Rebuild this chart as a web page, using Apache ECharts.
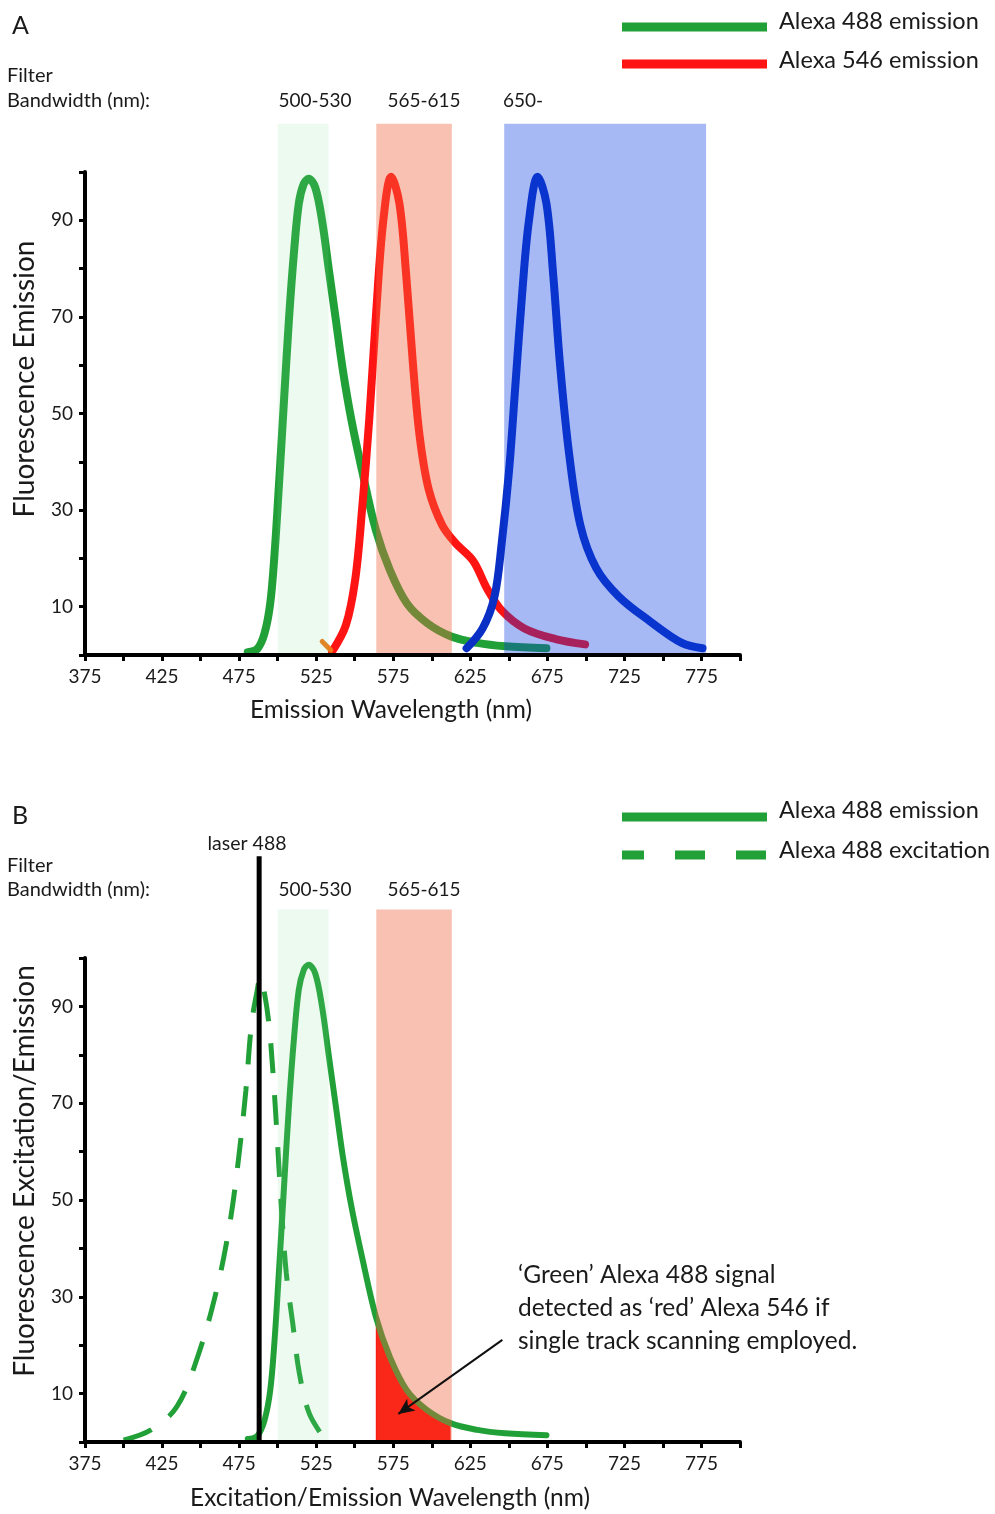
<!DOCTYPE html>
<html><head><meta charset="utf-8">
<script src="https://cdn.jsdelivr.net/npm/echarts@6/dist/echarts.min.js"></script>
<style>html,body{margin:0;padding:0;background:#fff}#c{width:995px;height:1514px}</style>
</head><body><div id="c"></div>
<script>
// ---------- data ----------
const xTickLabels = [375, 425, 475, 525, 575, 625, 675, 725, 775];
const yTickLabels = [10, 30, 50, 70, 90];
const filterBandsA = [[500, 533], [564, 613], [647, 778]];
const filterBandsB = [[500, 533], [564, 613]];
const bandLabelsA = ['500-530', '565-615', '650-'];
const bandLabelsB = ['500-530', '565-615'];
const alexa488Em = [[480.6,0.6],[486.9,1.3],[491.5,4.5],[495.2,10.7],[498,21],[500.8,35],[504,52],[507.3,69.3],[510.5,83],[513.7,93.4],[516.9,97.5],[520.1,98.6],[524.4,96.8],[528.8,90],[533.3,79.6],[537.8,69.3],[542.3,59],[547.9,48.6],[554.7,38.3],[563.7,25.9],[572.8,17.6],[583.8,10.7],[597,6.6],[612.2,3.9],[629.6,2.5],[647.6,1.8],[674.4,1.4]];
const alexa546Em = [[535.3,0.7],[544.3,6.2],[550.4,15.8],[554.9,30.6],[559.5,49.1],[564,71.3],[568.5,89.8],[573.7,99],[579,93.5],[583.4,78.7],[587.8,60.2],[592.1,45.4],[598,34.3],[606.7,26.9],[615.3,23.2],[626.8,19.5],[636.1,13.6],[645.4,9.2],[660.1,5.5],[680.3,3.3],[699.5,2.2]];
const alexa647Em = [[622.6,1.4],[633,5.5],[640.7,12.1],[645.4,23.2],[650.1,38],[654.4,56.5],[658.7,75],[663,89.8],[668.7,99],[674.4,93.5],[678.8,78.7],[683.2,60.2],[689.1,41.7],[696.4,26.9],[706.7,18],[721.4,12.1],[741.5,7],[762.2,2.5],[775.7,1.4]];
const alexa488Ex = [[400,0.4],[417.8,2.5],[434.6,7.3],[448.1,17.6],[460.4,31.4],[469,45.2],[474.8,59],[479.4,72.7],[483.1,86.5],[486.8,93.4],[488.7,96.1],[491.3,93],[494.3,86.5],[497,76.2],[499.8,62.4],[502.4,48.6],[505.6,34.9],[509.8,24.5],[514.1,14.2],[520.5,5.9],[530.1,0.8]];
const orangeTick = [[528.9,2.8],[534.5,1.0]];
const laser488 = 488;
const laserTop = 121;
const spilloverRange = [563, 613];
const arrowFrom = [645.8, 21.1];
const arrowTo = [578.3, 5.8];

// ---------- styles ----------
const FONT = 'Lato';
const TXT = '#1a1a1a';
const GREEN = '#22a038';
const RED = '#ff1414';
const BLUE = '#0a2fc4';
const bandColorsA = ['rgba(120,220,140,0.14)', 'rgba(240,100,60,0.40)', 'rgba(10,60,225,0.36)'];
const bandColorsB = ['rgba(120,220,140,0.14)', 'rgba(240,100,60,0.40)'];
const BAND_TOP = 110;

function xAxisCfg(g) {
  return {
    type: 'value', gridIndex: g, min: 375, max: 800, interval: 25, z: 6,
    axisLine: { show: true, onZero: false, lineStyle: { color: '#000', width: 4 } },
    axisTick: { show: true, length: 6, lineStyle: { color: '#000', width: 3 } },
    axisLabel: { formatter: v => xTickLabels.includes(v) ? String(v) : '', fontFamily: FONT, fontSize: 19, color: TXT, margin: 12 },
    splitLine: { show: false }
  };
}
function yAxisCfg(g) {
  return {
    type: 'value', gridIndex: g, min: 0, max: 100, interval: 10, z: 6,
    axisLine: { show: true, onZero: false, lineStyle: { color: '#000', width: 4 } },
    axisTick: { show: true, length: 6, lineStyle: { color: '#000', width: 3 } },
    axisLabel: { formatter: v => yTickLabels.includes(v) ? String(v) : '', fontFamily: FONT, fontSize: 19, color: TXT, margin: 12 },
    splitLine: { show: false }
  };
}
function bandSeries(g, bands, colors) {
  return {
    type: 'custom', xAxisIndex: g, yAxisIndex: g, z: 4, silent: true, clip: false,
    data: bands,
    encode: { x: [0, 1] },
    renderItem: function (params, api) {
      const p1 = api.coord([api.value(0), BAND_TOP]);
      const p2 = api.coord([api.value(1), 0]);
      return { type: 'rect', shape: { x: p1[0], y: p1[1], width: p2[0] - p1[0], height: p2[1] - p1[1] }, style: { fill: colors[params.dataIndex] } };
    }
  };
}
function curve(g, data, color, width, extra) {
  return Object.assign({
    type: 'line', xAxisIndex: g, yAxisIndex: g, data: data, showSymbol: false, symbol: 'none',
    smooth: 0.35, clip: false, z: 2, silent: true,
    lineStyle: { color: color, width: width, cap: 'round', join: 'round' }
  }, extra || {});
}
function txt(text, x, y, size, align, extra) {
  return Object.assign({
    type: 'text', x: x, y: y, silent: true,
    style: { text: text, x: 0, y: 0, font: size + 'px ' + FONT, fill: TXT, align: align || 'left', verticalAlign: 'middle', textAlign: align || 'left', textVerticalAlign: 'middle' }
  }, extra || {});
}

const spill = alexa488Em.filter(p => p[0] >= spilloverRange[0] && p[0] <= spilloverRange[1]);

const graphic = [
  txt('A', 12, 26, 25, 'left'),
  txt('Filter', 7, 76, 20), txt('Bandwidth (nm):', 7, 101, 20),
  txt(bandLabelsA[0], 315, 101, 19, 'center'), txt(bandLabelsA[1], 424, 101, 19, 'center'), txt(bandLabelsA[2], 503, 101, 19, 'left'),
  { type: 'line', silent: true, shape: { x1: 622, y1: 27, x2: 767, y2: 27 }, style: { stroke: GREEN, lineWidth: 9 } },
  { type: 'line', silent: true, shape: { x1: 622, y1: 64, x2: 767, y2: 64 }, style: { stroke: RED, lineWidth: 9 } },
  txt('Alexa 488 emission', 779, 21, 23.5), txt('Alexa 546 emission', 779, 60, 23.5),
  txt('Emission Wavelength (nm)', 391, 710, 24.5, 'center'),
  txt('Fluorescence Emission', 25, 379, 28, 'center', { rotation: Math.PI / 2 }),
  txt('B', 12, 816, 25, 'left'),
  txt('laser 488', 247, 844, 19.5, 'center'),
  txt('Filter', 7, 866, 20), txt('Bandwidth (nm):', 7, 890, 20),
  txt(bandLabelsB[0], 315, 890, 19, 'center'), txt(bandLabelsB[1], 424, 890, 19, 'center'),
  { type: 'line', silent: true, shape: { x1: 622, y1: 817, x2: 767, y2: 817 }, style: { stroke: GREEN, lineWidth: 9 } },
  { type: 'line', silent: true, shape: { x1: 622, y1: 855, x2: 767, y2: 855 }, style: { stroke: GREEN, lineWidth: 9, lineDash: [30, 31], lineDashOffset: 8 } },
  txt('Alexa 488 emission', 779, 810, 23.5), txt('Alexa 488 excitation', 779, 850, 23.5),
  txt('Excitation/Emission Wavelength (nm)', 390, 1498, 24.5, 'center'),
  txt('Fluorescence Excitation/Emission', 25, 1171, 28, 'center', { rotation: Math.PI / 2 }),
  txt('\u2018Green\u2019 Alexa 488 signal', 518, 1275, 24.5),
  txt('detected as \u2018red\u2019 Alexa 546 if', 518, 1308, 24.5),
  txt('single track scanning employed.', 518, 1341, 24.5)
];

const option = {
  animation: false,
  backgroundColor: '#fff',
  grid: [
    { left: 85, right: 255, top: 172, height: 483 },
    { left: 85, right: 255, top: 958, height: 484 }
  ],
  xAxis: [xAxisCfg(0), xAxisCfg(1)],
  yAxis: [yAxisCfg(0), yAxisCfg(1)],
  graphic: graphic,
  series: [
    // panel A
    curve(0, alexa488Em, GREEN, 8),
    curve(0, alexa546Em, RED, 8),
    curve(0, alexa647Em, BLUE, 8),
    curve(0, orangeTick, '#f07a18', 5, { smooth: false }),
    bandSeries(0, filterBandsA, bandColorsA),
    // panel B
    curve(1, spill, 'rgba(0,0,0,0)', 0, { z: 1, areaStyle: { color: '#ff0000', opacity: 1 },
      markLine: { silent: true, symbol: ['none', 'arrow'], symbolSize: [11, 16], label: { show: false },
        lineStyle: { color: '#111', width: 2, type: 'solid' },
        data: [[{ coord: arrowFrom }, { coord: arrowTo }]] } }),
    curve(1, alexa488Ex, GREEN, 5, { lineStyle: { color: GREEN, width: 5, type: [30, 22], cap: 'butt' } }),
    curve(1, alexa488Em, GREEN, 6),
    bandSeries(1, filterBandsB, bandColorsB),
    curve(1, [[laser488, 0], [laser488, laserTop]], '#000', 5, { smooth: false, z: 5, lineStyle: { color: '#000', width: 5, cap: 'butt' } })
  ]
};
const chart = echarts.init(document.getElementById('c'), null, { renderer: 'canvas' });
chart.setOption(option);
</script></body></html>
